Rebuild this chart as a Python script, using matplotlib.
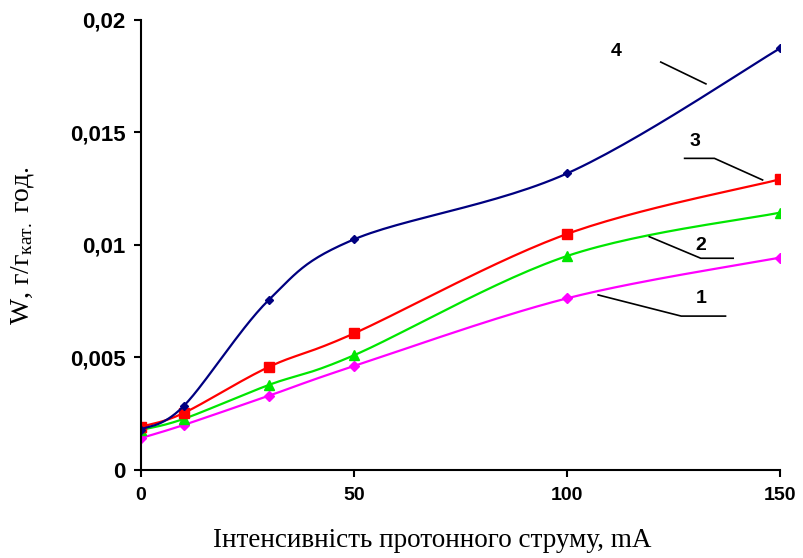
import numpy as np
import matplotlib
matplotlib.use("Agg")
from matplotlib import pyplot as plt

plt.rcParams['mathtext.fontset'] = 'custom'
plt.rcParams['mathtext.rm'] = 'Liberation Serif'
plt.rcParams['mathtext.it'] = 'Liberation Serif:italic'

# струм пучка, mA
current = [0, 10, 30, 50, 100, 150]
# швидкість зношення для кривих 1-4
w1 = [0.00142, 0.00200, 0.00330, 0.00462, 0.00763, 0.00944]
w2 = [0.00178, 0.00227, 0.00378, 0.00510, 0.00951, 0.01144]
w3 = [0.00192, 0.00253, 0.00458, 0.00607, 0.01049, 0.01292]
w4 = [0.00180, 0.00284, 0.00756, 0.01025, 0.01318, 0.01874]

yticks = [0, 0.005, 0.01, 0.015, 0.02]
ytick_labels = ['0', '0,005', '0,01', '0,015', '0,02']
xticks = [0, 50, 100, 150]


def smooth(x, y, n=30):
    # згладжена крива як в Excel (Безьє через точки)
    x = np.asarray(x, float)
    y = np.asarray(y, float)
    px, py = [], []
    m = len(x)
    for i in range(m - 1):
        i0 = max(i - 1, 0)
        i3 = min(i + 2, m - 1)
        c1x = x[i] + (x[i + 1] - x[i0]) / 6
        c1y = y[i] + (y[i + 1] - y[i0]) / 6
        c2x = x[i + 1] - (x[i3] - x[i]) / 6
        c2y = y[i + 1] - (y[i3] - y[i]) / 6
        t = np.linspace(0, 1, n)
        a = (1 - t) ** 3
        b = 3 * (1 - t) ** 2 * t
        c = 3 * (1 - t) * t ** 2
        d = t ** 3
        px.extend(a * x[i] + b * c1x + c * c2x + d * x[i + 1])
        py.extend(a * y[i] + b * c1y + c * c2y + d * y[i + 1])
    return px, py


fig = plt.figure(figsize=(8.04, 5.58), dpi=100)
ax = fig.add_axes([0.1754, 0.1577, 0.7948, 0.8065])

series = [
    (w1, '#FF00FF', 'D', 5.5),
    (w2, '#00E600', '^', 6.5),
    (w3, '#FF0000', 's', 6.5),
    (w4, '#000080', 'D', 4.5),
]
for y, col, mk, ms in series:
    sx, sy = smooth(current, y)
    ax.plot(sx, sy, color=col, lw=1.6)
    ax.plot(current, y, ls='none', marker=mk, color=col, ms=ms)

ax.set_xlim(0, 150)
ax.set_ylim(0, 0.02)
ax.spines['top'].set_visible(False)
ax.spines['right'].set_visible(False)
ax.spines['left'].set_linewidth(1.5)
ax.spines['bottom'].set_linewidth(1.5)
ax.set_yticks(yticks)
ax.set_yticklabels(ytick_labels)
ax.set_xticks(xticks)
ax.tick_params(direction='out', length=5, width=1.5)
ax.tick_params(axis='y', labelsize=16, pad=6)
ax.tick_params(axis='x', labelsize=14, pad=7)
for lb in ax.get_xticklabels() + ax.get_yticklabels():
    lb.set_fontfamily('Liberation Sans')
    lb.set_fontweight('bold')

ax.set_xlabel('Інтенсивність протонного струму, mA', family='Liberation Serif',
              fontsize=19.5, va='top')
ax.xaxis.set_label_coords(0.455, -0.128)
ax.set_ylabel(r'W, г/г$_{\mathrm{кат.}}$ год.', family='Liberation Serif',
              fontsize=20)
ax.yaxis.set_label_coords(-0.165, 0.5)

# номери кривих з виносками
kw = dict(color='black', lw=1.2, clip_on=False)
tkw = dict(fontsize=14, fontweight='bold', family='Liberation Sans',
           ha='center', va='center')
ax.text(111.5, 0.01860, '4', **tkw)
ax.plot([122.0, 132.6], [0.01813, 0.01716], **kw)
ax.text(130.0, 0.01459, '3', **tkw)
ax.plot([127.6, 134.6, 145.9], [0.01385, 0.01385, 0.01289], **kw)
ax.text(131.5, 0.00996, '2', **tkw)
ax.plot([119.3, 131.4, 139.0], [0.01037, 0.00941, 0.00941], **kw)
ax.text(131.5, 0.00764, '1', **tkw)
ax.plot([107.3, 126.8, 137.2], [0.00778, 0.00684, 0.00684], **kw)

fig.savefig('out.png', dpi=100)
